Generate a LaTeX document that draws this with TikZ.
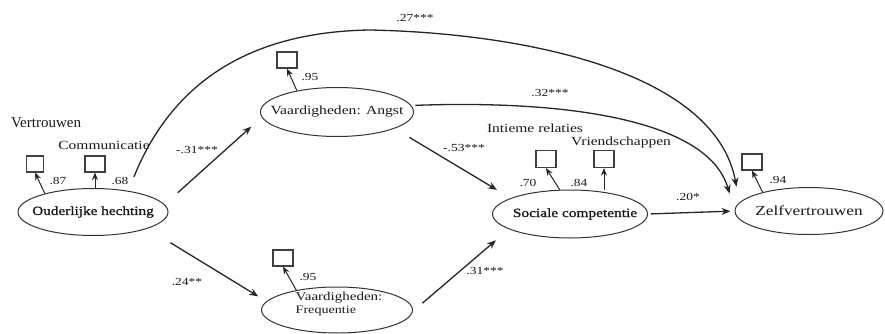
\documentclass[tikz,border=0pt]{standalone}
\usepackage{fontspec}
\setmainfont{Liberation Serif}[FakeStretch=1.25]
\newfontfamily\plainserif{Liberation Serif}
\newfontfamily\boldish{Liberation Serif}[FakeStretch=1.22,FakeBold=1.2]
\usetikzlibrary{arrows.meta,shapes.geometric}
\begin{document}
\begin{tikzpicture}[x=1pt,y=-1pt,
  ink/.style={black!90},
  lbl/.style={ink,font=\fontsize{12.4}{14}\selectfont, inner sep=0pt},
  num/.style={ink,font=\fontsize{10.8}{12}\selectfont, inner sep=0pt},
  elab/.style={ink,font=\fontsize{12.5}{15}\selectfont, inner sep=0pt},
  latent/.style={draw=black!80, ellipse, line width=1pt, inner sep=0pt},
  obs/.style={draw=black!75, rectangle, line width=1.2pt, minimum width=20pt, minimum height=16pt, inner sep=0pt},
  pathar/.style={draw=black!85, line width=1.3pt, -{Stealth[length=9pt,width=7pt]}},
  loadar/.style={draw=black!85, line width=1pt, -{Stealth[length=7.5pt,width=6pt]}},
]
\useasboundingbox (0,0) rectangle (885,334);

% latent variables
\node[latent, minimum width=150pt, minimum height=47pt,
  label={[elab,font=\boldish\fontsize{12.5}{15}\selectfont]center:{Ouderlijke hechting}}] (oh) at (93,212) {};
\node[latent, minimum width=153pt, minimum height=49pt,
  label={[elab]center:{Vaardigheden: Angst}}] (ang) at (337,112) {};
\node[latent, minimum width=151pt, minimum height=46pt,
  label={[elab,align=left,font=\fontsize{12}{13}\selectfont,yshift=6pt,xshift=2pt]center:{Vaardigheden:\\{\fontsize{11.3}{13}\selectfont Frequentie}}}] (fr) at (337,310) {};
\node[latent, minimum width=155pt, minimum height=48pt,
  label={[elab,xshift=5pt,font=\boldish\fontsize{12.6}{15}\selectfont]center:{Sociale competentie}}] (sc) at (570,214) {};
\node[latent, minimum width=148pt, minimum height=47pt,
  label={[elab,font=\fontsize{13.8}{16}\selectfont]center:{Zelfvertrouwen}}] (zv) at (809,211) {};

% indicator / error boxes
\node[obs, minimum width=17pt] (b1) at (35,164) {};
\node[obs] (b2) at (95,164) {};
\node[obs] (b3) at (287,60) {};
\node[obs] (b4) at (283,258) {};
\node[obs, minimum height=17pt] (b5) at (546,159) {};
\node[obs, minimum height=17pt] (b6) at (604,159) {};
\node[obs] (b7) at (752,162) {};

\draw[loadar] (oh.159) -- (b1.south);
\draw[loadar] (oh.north -| b2.south) -- (b2.south);
\draw[loadar] (ang.152) -- (b3.south);
\draw[loadar] (fr.154) -- (b4.south);
\draw[loadar] (sc.113) -- (b5.south);
\draw[loadar] (sc.north -| b6.south) -- (b6.south);
\draw[loadar] (zv.158) -- (b7.south);

% structural paths
\draw[pathar, shorten <=17.5pt, shorten >=14pt] (oh.6) -- (ang.184.5);
\draw[pathar, shorten <=27pt, shorten >=9.5pt] (oh.343) -- (fr.173.6);
\draw[pathar, shorten <=17pt, shorten >=16pt] (ang.344) -- (sc.165);
\draw[pathar, shorten <=12.5pt, shorten >=17pt] (fr.359) -- (sc.194);
\draw[pathar, shorten <=3pt, shorten >=4pt] (sc.east) -- (zv.west);
\draw[pathar, shorten <=15pt, shorten >=16pt] (oh.31) .. controls (165,100) and (230,32) .. (370,30) .. controls (520,33) and (715,70) .. (zv.173);
\draw[pathar, shorten <=4pt, shorten >=18pt] (ang.5) .. controls (560,100) and (708,118) .. (zv.west);

% texts
\node[ink, font=\plainserif\fontsize{15}{16}\selectfont, inner sep=0pt] (tVer) at (46,123) {Vertrouwen};
\node[lbl] (tCom) at (104,145) {Communicatie};
\node[num] (n87) at (58,181) {.87};
\node[num] (n68) at (120,181) {.68};
\node[num] (n31a) at (197,150) {-.31***};
\node[num] (n24) at (187,282) {.24**};
\node[num] (n95a) at (310,77) {.95};
\node[num] (n95b) at (308,277) {.95};
\node[num] (n27) at (415,18) {.27***};
\node[num] (n32) at (550,93) {.32***};
\node[num] (n53) at (464,148) {-.53***};
\node[lbl] (tInt) at (535,128) {Intieme relaties};
\node[lbl] (tVri) at (621,143) {Vriendschappen};
\node[num] (n70) at (528,183) {.70};
\node[num] (n84) at (579,183) {.84};
\node[num] (n20) at (688,197) {.20*};
\node[num] (n94) at (778,180) {.94};
\node[num] (n31b) at (485,271) {.31***};
\end{tikzpicture}
\end{document}
